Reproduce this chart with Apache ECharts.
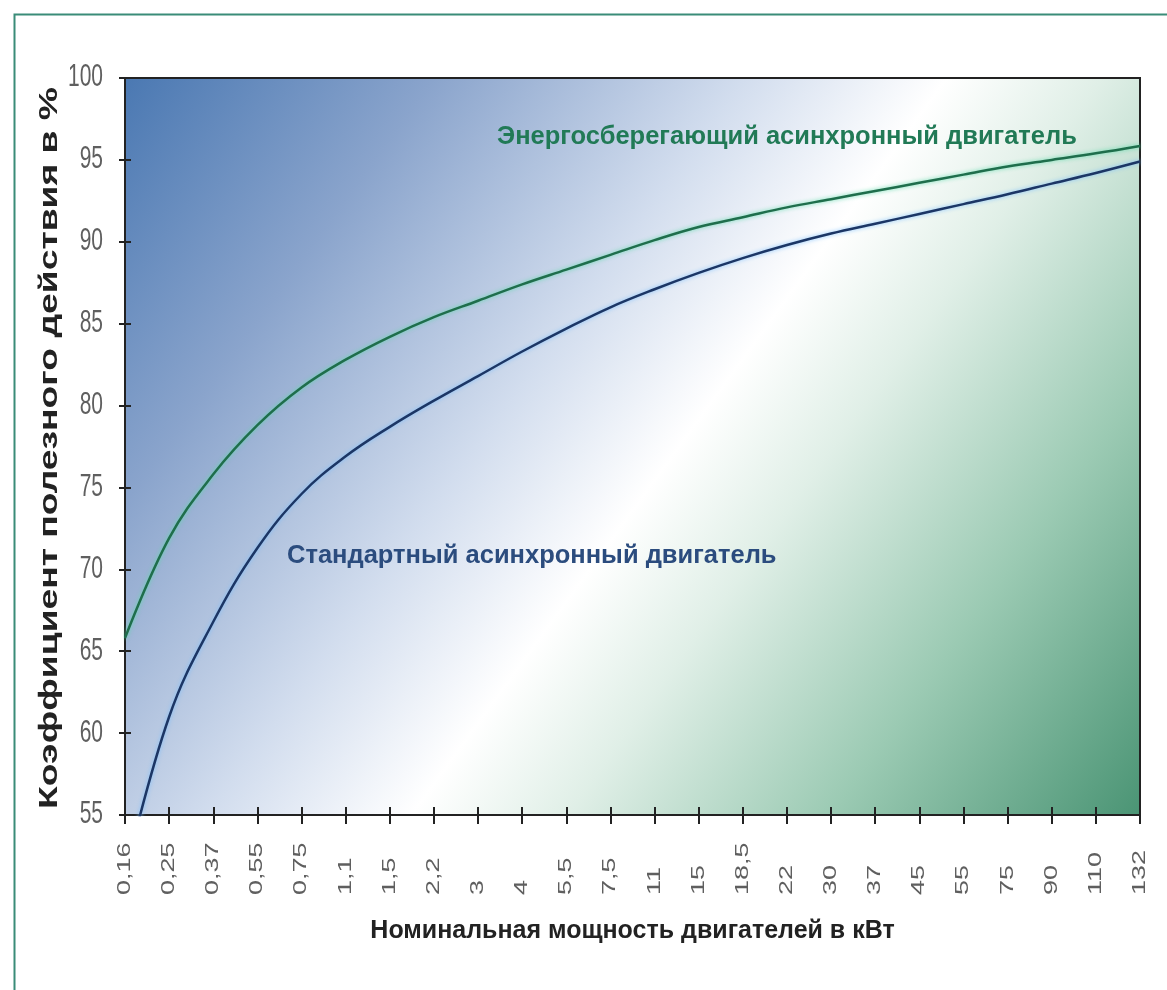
<!DOCTYPE html>
<html>
<head>
<meta charset="utf-8">
<script src="https://cdn.jsdelivr.net/npm/echarts@6/dist/echarts.min.js"></script>
<style>
  html, body { margin: 0; padding: 0; background: #fff; }
  #chart { width: 1167px; height: 990px; }
</style>
</head>
<body>
<div id="chart"></div>
<script>
// motor rated power, kW (category axis)
const powerKw = ['0,16', '0,25', '0,37', '0,55', '0,75', '1,1', '1,5', '2,2', '3', '4', '5,5', '7,5',
  '11', '15', '18,5', '22', '30', '37', '45', '55', '75', '90', '110', '132'];

// efficiency, %
const effStandard = [51.3, 61.0, 66.8, 71.3, 74.6, 76.9, 78.7, 80.3, 81.8, 83.3, 84.7, 86.0,
  87.1, 88.1, 89.0, 89.8, 90.5, 91.1, 91.7, 92.3, 92.9, 93.55, 94.2, 94.9];
const effSaving = [65.8, 71.9, 75.8, 78.8, 81.1, 82.8, 84.2, 85.4, 86.4, 87.4, 88.3, 89.2,
  90.1, 90.9, 91.5, 92.1, 92.6, 93.1, 93.6, 94.1, 94.6, 95.0, 95.4, 95.85];

// y axis ticks
const yValues = [55, 60, 65, 70, 75, 80, 85, 90, 95, 100];

const labelStandard = 'Стандартный асинхронный двигатель';
const labelSaving = 'Энергосберегающий асинхронный двигатель';
const xTitle = 'Номинальная мощность двигателей в кВт';
const yTitle = 'Коэффициент полезного действия в %';

const chart = echarts.init(document.getElementById('chart'));
const FONT = '"Liberation Sans", Arial, sans-serif';
const axisC = '#222';
const tickC = '#5f5f5f';

const bgGrad = new echarts.graphic.LinearGradient(0, 0, 1, 1, [
  { offset: 0, color: '#4a78b2' },
  { offset: 0.2, color: '#8aa4cc' },
  { offset: 0.4, color: '#d2ddee' },
  { offset: 0.53, color: '#ffffff' },
  { offset: 0.63, color: '#e0efe7' },
  { offset: 0.8, color: '#9bcab3' },
  { offset: 1, color: '#4a9474' }
]);

const yMin = yValues[0], yMax = yValues[yValues.length - 1];

chart.setOption({
  animation: false,
  backgroundColor: '#fff',
  grid: {
    left: 125, right: 27, top: 78, bottom: 175,
    show: true, backgroundColor: bgGrad, borderColor: axisC, borderWidth: 2
  },
  xAxis: [{
    type: 'category', data: powerKw, boundaryGap: false,
    axisLine: { lineStyle: { color: axisC, width: 2 } },
    axisTick: { interval: 0, length: 9, lineStyle: { color: axisC, width: 2 } },
    axisLabel: { show: false },
    splitLine: { show: false },
    name: xTitle, nameLocation: 'middle', nameGap: 104,
    nameTextStyle: { color: '#222', fontSize: 25, fontWeight: 'bold', fontFamily: FONT }
  }, {
    type: 'category', data: powerKw, boundaryGap: false, position: 'bottom',
    axisLine: { show: false }, axisLabel: { show: false },
    axisTick: { interval: 0, inside: true, length: 8, lineStyle: { color: axisC, width: 2 } }
  }],
  yAxis: [{
    type: 'value', min: yMin, max: yMax, interval: 5,
    axisLine: { show: true, lineStyle: { color: axisC, width: 2 } },
    axisTick: { show: true, length: 6, lineStyle: { color: axisC, width: 2 } },
    axisLabel: { show: false },
    splitLine: { show: false }
  }, {
    type: 'value', min: yMin, max: yMax, interval: 5, position: 'left',
    axisLine: { show: false }, axisLabel: { show: false }, splitLine: { show: false },
    axisTick: { show: true, inside: true, length: 6, lineStyle: { color: axisC, width: 2 } }
  }],
  series: [
    {
      name: labelSaving, type: 'line', data: effSaving, smooth: 0.4, symbol: 'none', clip: true,
      lineStyle: { color: '#1f6e4c', width: 2.5, shadowColor: 'rgba(90,220,170,0.9)', shadowBlur: 4 }
    },
    {
      name: labelStandard, type: 'line', data: effStandard, smooth: 0.4, symbol: 'none', clip: true,
      lineStyle: { color: '#1c3665', width: 2.5, shadowColor: 'rgba(120,190,255,0.9)', shadowBlur: 4 }
    },
    // x tick labels: tall, narrow, bottom-aligned (placed via the axis scale)
    {
      type: 'custom', silent: true, clip: false,
      data: powerKw.map((k, i) => [i, yMin]),
      renderItem: (params, api) => {
        const p = api.coord([api.value(0), api.value(1)]);
        return {
          type: 'text', x: p[0], y: p[1] + 80, rotation: Math.PI / 2, scaleX: 1.5,
          style: { text: powerKw[params.dataIndex], fill: tickC, font: '18px ' + FONT, align: 'left', verticalAlign: 'middle' }
        };
      }
    },
    // y tick labels
    {
      type: 'custom', silent: true, clip: false,
      data: yValues.map(v => [0, v]),
      renderItem: (params, api) => {
        const p = api.coord([api.value(0), api.value(1)]);
        return {
          type: 'text', x: p[0] - 22, y: p[1], scaleY: 1.45,
          style: { text: String(yValues[params.dataIndex]), fill: tickC, font: '21px ' + FONT, align: 'right', verticalAlign: 'middle' }
        };
      }
    }
  ],
  graphic: [
    { type: 'rect', left: 12, top: 12, shape: { width: 1165, height: 990 },
      style: { fill: 'none', stroke: '#3a8c78', lineWidth: 2 }, z: 10 },
    { type: 'text', x: 50, y: 448, rotation: Math.PI / 2, scaleX: 1.49,
      style: { text: yTitle, fill: '#222', font: 'bold 25px ' + FONT, align: 'center', verticalAlign: 'middle' } },
    { type: 'text', x: 497, y: 137,
      style: { text: labelSaving, fill: '#217a56', font: 'bold 25.5px ' + FONT, align: 'left', verticalAlign: 'middle' }, z: 20 },
    { type: 'text', x: 287, y: 556,
      style: { text: labelStandard, fill: '#2b4c7e', font: 'bold 25.5px ' + FONT, align: 'left', verticalAlign: 'middle' }, z: 20 }
  ]
});
</script>
</body>
</html>
